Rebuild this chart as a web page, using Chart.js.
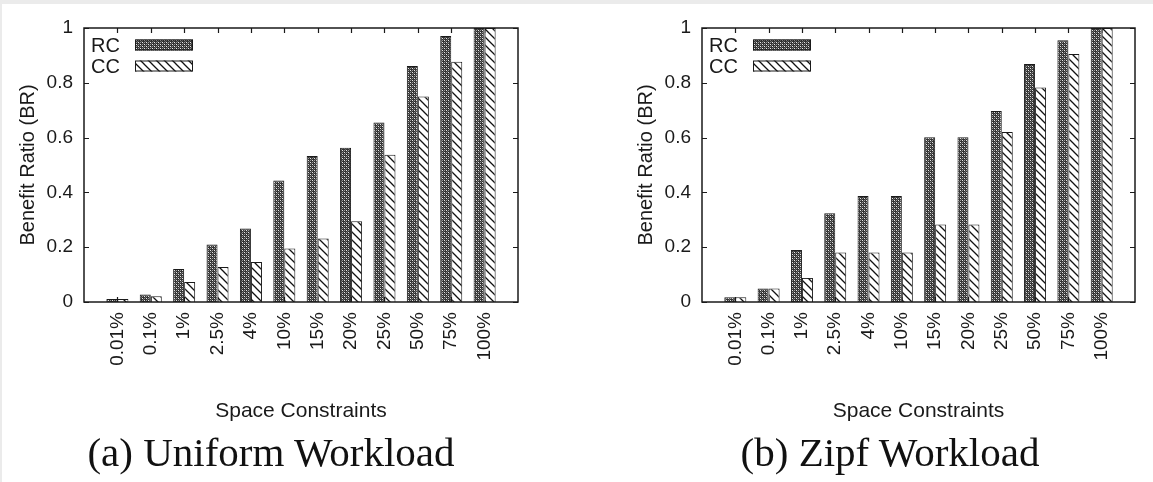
<!DOCTYPE html>
<html>
<head>
<meta charset="utf-8">
<script src="https://cdn.jsdelivr.net/npm/chart.js@4.4.0/dist/chart.umd.js"></script>
<style>
  html, body { margin: 0; padding: 0; }
  body { width: 1153px; height: 482px; background: #ebebeb; position: relative; overflow: hidden; }
  .sheet { position: absolute; left: 2px; top: 4px; right: 0; bottom: 0; background: #fff; }
  canvas { position: absolute; top: 0; }
  #uniform { left: 0; }
  #zipf { left: 618px; }
  .caption {
    position: absolute; top: 428px; width: 500px; margin-left: -250px;
    text-align: center; font-family: 'Liberation Serif', 'Times New Roman', serif;
    font-size: 41px; color: #111; line-height: 48px;
  }
</style>
</head>
<body>
<div class="sheet"></div>
<canvas id="uniform" width="560" height="430"></canvas>
<canvas id="zipf" width="535" height="430"></canvas>
<div class="caption" style="left:271px">(a) Uniform Workload</div>
<div class="caption" style="left:890px">(b) Zipf Workload</div>

<script>
// values
const categories = ['0.01%', '0.1%', '1%', '2.5%', '4%', '10%', '15%', '20%', '25%', '50%', '75%', '100%'];
const seriesNames = ['RC', 'CC'];
const uniformRC = [0.011, 0.027, 0.12, 0.21, 0.268, 0.443, 0.533, 0.563, 0.655, 0.861, 0.971, 1.0];
const uniformCC = [0.011, 0.021, 0.073, 0.128, 0.146, 0.195, 0.232, 0.295, 0.537, 0.75, 0.877, 1.0];
const zipfRC = [0.017, 0.049, 0.19, 0.324, 0.387, 0.387, 0.601, 0.601, 0.697, 0.869, 0.955, 1.0];
const zipfCC = [0.017, 0.049, 0.088, 0.181, 0.181, 0.181, 0.283, 0.283, 0.62, 0.783, 0.905, 1.0];
const yTicks = [0, 0.2, 0.4, 0.6, 0.8, 1];

const SANS = "'Liberation Sans', Arial, Helvetica, sans-serif";
const INK = '#1a1a1a';

// gnuplot-like fill patterns
function rcPattern(ctx) {
  const c = document.createElement('canvas');
  c.width = 4; c.height = 4;
  const g = c.getContext('2d');
  g.fillStyle = '#333';
  g.fillRect(0, 0, 4, 4);
  g.fillStyle = '#e8e8e8';
  g.fillRect(0, 0, 1, 1);
  g.fillRect(2, 2, 1, 1);
  g.fillStyle = '#9a9a9a';
  g.fillRect(2, 0, 1, 1);
  g.fillRect(0, 2, 1, 1);
  g.fillStyle = '#666';
  g.fillRect(1, 1, 1, 1);
  g.fillRect(3, 3, 1, 1);
  return ctx.createPattern(c, 'repeat');
}

function ccPattern(ctx) {
  const c = document.createElement('canvas');
  c.width = 8; c.height = 8;
  const g = c.getContext('2d');
  g.fillStyle = '#fff';
  g.fillRect(0, 0, 8, 8);
  g.strokeStyle = '#111';
  g.lineWidth = 1.3;
  g.beginPath();
  g.moveTo(-1, -1); g.lineTo(9, 9);
  g.moveTo(-1, 7); g.lineTo(1, 9);
  g.moveTo(7, -1); g.lineTo(9, 1);
  g.stroke();
  return ctx.createPattern(c, 'repeat');
}

// inward ticks on all four sides + closed frame + key in the top-left
const framePlugin = {
  id: 'frame',
  beforeDatasetsDraw(chart) {
    const {ctx, chartArea: a, scales: {x, y}} = chart;
    ctx.save();
    ctx.strokeStyle = INK;
    ctx.lineWidth = 1.2;
    ctx.beginPath();
    x.ticks.forEach(t => {
      const px = Math.round(x.getPixelForValue(t.value)) + 0.5;
      ctx.moveTo(px, a.top); ctx.lineTo(px, a.top + 5);
      ctx.moveTo(px, a.bottom); ctx.lineTo(px, a.bottom - 5);
    });
    yTicks.forEach(v => {
      const py = Math.round(y.getPixelForValue(v)) + 0.5;
      ctx.moveTo(a.left, py); ctx.lineTo(a.left + 5, py);
      ctx.moveTo(a.right, py); ctx.lineTo(a.right - 5, py);
    });
    ctx.stroke();
    ctx.restore();
  },
  afterDatasetsDraw(chart) {
    const {ctx, chartArea: a} = chart;
    ctx.save();
    ctx.strokeStyle = INK;
    ctx.lineWidth = 1.5;
    ctx.strokeRect(a.left, a.top, a.right - a.left, a.bottom - a.top);

    // key
    ctx.font = '20px ' + SANS;
    ctx.fillStyle = INK;
    ctx.textBaseline = 'middle';
    chart.data.datasets.forEach((ds, i) => {
      const cy = a.top + 17 + i * 21;
      ctx.fillText(ds.label, a.left + 7, cy + 1);
      ctx.fillStyle = ds.backgroundColor;
      ctx.fillRect(a.left + 51, cy - 5.5, 58, 11);
      ctx.lineWidth = 1;
      ctx.strokeRect(a.left + 51.5, cy - 5, 57, 10);
      ctx.fillStyle = INK;
    });
    ctx.restore();
  },
};

function makeChart(id, rc, cc, rightPad) {
  const ctx = document.getElementById(id).getContext('2d');
  const toPoints = vals => vals.map((v, i) => ({x: i, y: v}));

  return new Chart(ctx, {
    type: 'bar',
    data: {
      datasets: [
        {label: seriesNames[0], data: toPoints(rc), backgroundColor: rcPattern(ctx)},
        {label: seriesNames[1], data: toPoints(cc), backgroundColor: ccPattern(ctx)},
      ].map(ds => ({
        ...ds,
        borderColor: INK,
        borderWidth: 1,
        categoryPercentage: 0.66,
        barPercentage: 1,
      })),
    },
    options: {
      responsive: false,
      animation: false,
      layout: {padding: {top: 28, right: rightPad, left: 0, bottom: 0}},
      plugins: {legend: {display: false}, tooltip: {enabled: false}},
      scales: {
        x: {
          type: 'linear',
          min: -1,
          max: 12,
          offset: false,
          grid: {display: false, drawTicks: false},
          border: {display: false},
          afterBuildTicks: s => { s.ticks = categories.map((_, i) => ({value: i})); },
          afterFit: s => { s.height = 128; },
          ticks: {
            autoSkip: false,
            minRotation: 90,
            maxRotation: 90,
            padding: 10,
            color: INK,
            font: {family: SANS, size: 19},
            callback: v => categories[v],
          },
          title: {
            display: true,
            text: 'Space Constraints',
            color: INK,
            font: {family: SANS, size: 21},
            padding: {top: 0, bottom: 6},
          },
        },
        y: {
          min: 0,
          max: 1,
          grid: {display: false, drawTicks: false},
          border: {display: false},
          afterBuildTicks: s => { s.ticks = yTicks.map(v => ({value: v})); },
          afterFit: s => { s.width = 84; },
          ticks: {
            padding: 11,
            color: INK,
            font: {family: SANS, size: 19},
            callback: v => (v === 0 || v === 1 ? String(v) : v.toFixed(1)),
          },
          title: {
            display: true,
            text: 'Benefit Ratio (BR)',
            color: INK,
            font: {family: SANS, size: 20},
            padding: {top: 16, bottom: 0},
          },
        },
      },
    },
    plugins: [framePlugin],
  });
}

makeChart('uniform', uniformRC, uniformCC, 42);
makeChart('zipf', zipfRC, zipfCC, 18);
</script>
</body>
</html>
